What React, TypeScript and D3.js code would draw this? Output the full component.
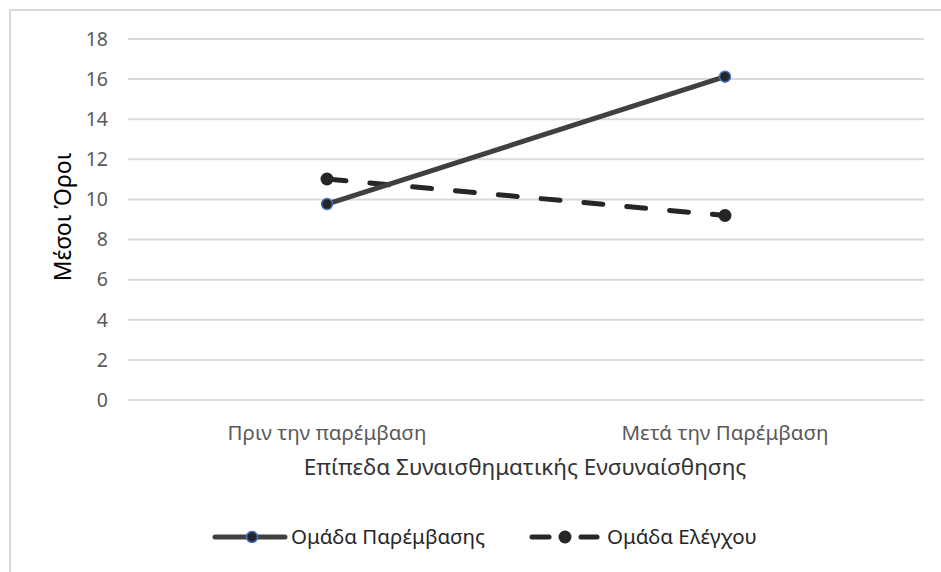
import React from "react";
import * as d3 from "d3";

// Mean scores before / after the intervention for each group
const categories = ["Πριν την παρέμβαση", "Μετά την Παρέμβαση"];
const interventionValues = [9.77, 16.12];
const controlValues = [11.02, 9.2];
const seriesNames = ["Ομάδα Παρέμβασης", "Ομάδα Ελέγχου"];
const yTicks = [0, 2, 4, 6, 8, 10, 12, 14, 16, 18];

const W = 941;
const H = 572;
const FONT = "'Noto Sans', 'Open Sans', sans-serif";
const LINE = "#404040";
const MARK = "#262626";

export default function App() {
  const plot = { left: 128, right: 924, top: 39, bottom: 400 };
  const x = d3.scaleBand<string>().domain(categories).range([plot.left, plot.right]);
  const y = d3.scaleLinear().domain([0, 18]).range([plot.bottom, plot.top]);
  const cx = (c: string) => (x(c) as number) + x.bandwidth() / 2;

  const line = d3
    .line<number>()
    .x((_, i) => cx(categories[i]))
    .y((v) => y(v));

  return (
    <svg
      width={W}
      height={H}
      style={{ position: "fixed", left: 0, top: 0, background: "#fff" }}
      fontFamily={FONT}
    >
      <rect x={10} y={10} width={W + 20} height={H + 20} fill="#fff" stroke="#d9d9d9" strokeWidth={2} />

      {yTicks.map((t) => (
        <g key={t}>
          <line x1={plot.left} x2={plot.right} y1={y(t)} y2={y(t)} stroke="#d9d9d9" strokeWidth={2} />
          <text x={108} y={y(t)} dy="0.35em" textAnchor="end" fontSize={19.5} fill="#595959">
            {t}
          </text>
        </g>
      ))}

      {categories.map((c) => (
        <text key={c} x={cx(c)} y={433} dy="0.35em" textAnchor="middle" fontSize={20.5} fill="#595959">
          {c}
        </text>
      ))}

      <text x={525} y={467} dy="0.35em" textAnchor="middle" fontSize={22.5} fill="#333">
        Επίπεδα Συναισθηματικής Ενσυναίσθησης
      </text>
      <text
        transform="translate(63, 217) rotate(-90)"
        dy="0.35em"
        textAnchor="middle"
        fontSize={23}
        fill="#000"
      >
        Μέσοι Όροι
      </text>

      {/* control group: dashed */}
      <path
        d={line(controlValues) as string}
        fill="none"
        stroke={MARK}
        strokeWidth={5}
        strokeDasharray="19 24"
        strokeLinecap="round"
      />
      {controlValues.map((v, i) => (
        <circle key={i} cx={cx(categories[i])} cy={y(v)} r={6.5} fill={MARK} />
      ))}

      {/* intervention group: solid */}
      <path d={line(interventionValues) as string} fill="none" stroke={LINE} strokeWidth={5} />
      {interventionValues.map((v, i) => (
        <circle key={i} cx={cx(categories[i])} cy={y(v)} r={5.5} fill={MARK} stroke="#4472c4" strokeWidth={1.5} />
      ))}

      {/* legend */}
      <g>
        <line x1={215} x2={285} y1={537} y2={537} stroke={LINE} strokeWidth={5} strokeLinecap="round" />
        <circle cx={252} cy={537} r={5.5} fill={MARK} stroke="#4472c4" strokeWidth={1.5} />
        <text x={291} y={537} dy="0.35em" fontSize={20.5} fill="#262626">
          {seriesNames[0]}
        </text>
        <line x1={532} x2={549} y1={537} y2={537} stroke={MARK} strokeWidth={5} strokeLinecap="round" />
        <line x1={581} x2={597} y1={537} y2={537} stroke={MARK} strokeWidth={5} strokeLinecap="round" />
        <circle cx={565} cy={537} r={6.5} fill={MARK} />
        <text x={607} y={537} dy="0.35em" fontSize={20.5} fill="#262626">
          {seriesNames[1]}
        </text>
      </g>
    </svg>
  );
}
